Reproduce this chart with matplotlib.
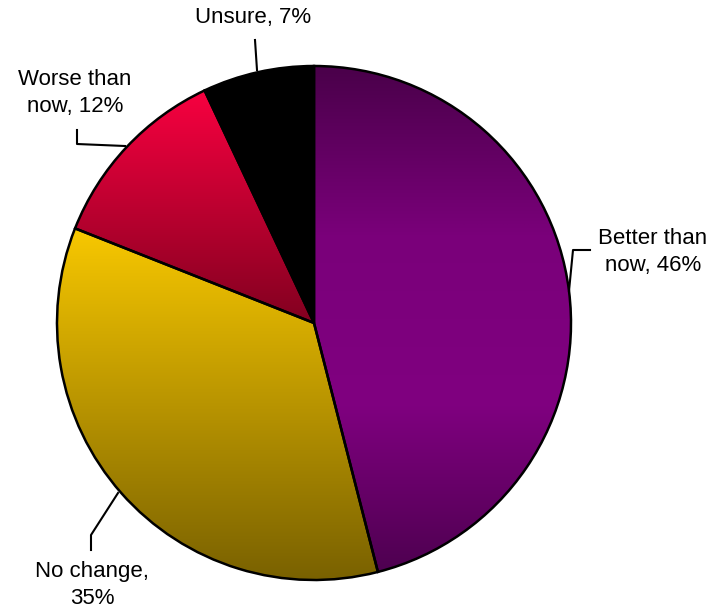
import numpy as np
import matplotlib
matplotlib.use("Agg")
import matplotlib.pyplot as plt
from matplotlib.colors import LinearSegmentedColormap

labels = ["Better than\nnow, 46%", "No change,\n35%", "Worse than\nnow, 12%", "Unsure, 7%"]
values = [46, 35, 12, 7]
# gradient stops per slice, bottom -> top
shades = [["#4e0050", "#800080", "#7a007a", "#4a004a"],
          ["#786000", "#f8c800"],
          ["#820020", "#f80040"],
          ["#000000", "#000000"]]

plt.rcParams["font.family"] = ["Liberation Sans", "DejaVu Sans"]

W, H = 713, 613
fig = plt.figure(figsize=(W / 100, H / 100), dpi=100)
ax = fig.add_axes([0, 0, 1, 1])

cx, cy, r = 314, H - 323, 257
wedges, _ = ax.pie(values, startangle=90, counterclock=False, center=(cx, cy), radius=r,
                   wedgeprops=dict(edgecolor="black", linewidth=1.8, facecolor="none"))

for w, st in zip(wedges, shades):
    v = w.get_path().vertices
    x0, x1 = v[:, 0].min(), v[:, 0].max()
    y0, y1 = v[:, 1].min(), v[:, 1].max()
    cm = LinearSegmentedColormap.from_list("g", st)
    grad = np.linspace(0, 1, 256).reshape(-1, 1)
    im = ax.imshow(grad, cmap=cm, extent=[x0, x1, y0, y1], origin="lower",
                   aspect="auto", interpolation="bilinear", zorder=0.5)
    im.set_clip_path(w)
    w.set_zorder(2)

ax.set_xlim(0, W)
ax.set_ylim(0, H)
ax.set_aspect("equal")
ax.axis("off")

fs = 16
txt = dict(fontsize=fs, ha="center", va="center", linespacing=1.4, color="black")
ax.text(253, H - 18, labels[3], **txt)
ax.text(75, H - 93, labels[2], **txt)
ax.text(653, H - 252, labels[0], **txt)
ax.text(92, H - 585, labels[1], **txt)

lk = dict(color="black", linewidth=1.5, zorder=3)
ax.plot([255, 257], [H - 40, H - 70], **lk)
ax.plot([77, 77, 125], [H - 130, H - 144, H - 146], **lk)
ax.plot([590, 573, 569], [H - 250, H - 250, H - 291], **lk)
ax.plot([118, 91, 91], [H - 493, H - 535, H - 550], **lk)

fig.savefig("out.png", dpi=100)
